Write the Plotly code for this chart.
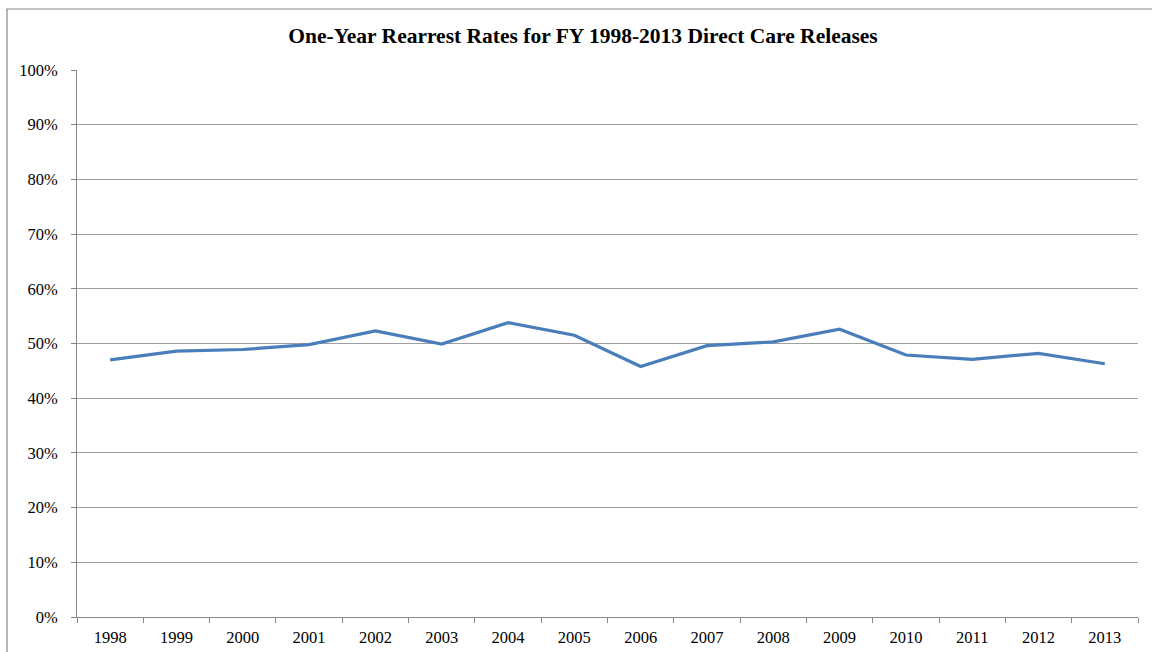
import plotly.graph_objects as go

years = ["1998", "1999", "2000", "2001", "2002", "2003", "2004", "2005",
         "2006", "2007", "2008", "2009", "2010", "2011", "2012", "2013"]
rates = [0.470, 0.486, 0.489, 0.498, 0.523, 0.499, 0.538, 0.515,
         0.458, 0.496, 0.503, 0.526, 0.479, 0.471, 0.482, 0.463]

FONT = "Liberation Serif, Times New Roman, serif"
W, H = 1152, 652
L, R, T, B = 77, 14, 70, 35
pw = W - L - R
ph = H - T - B

fig = go.Figure()
fig.add_trace(go.Scatter(
    x=years, y=rates, mode="lines",
    line=dict(color="#4A7EBB", width=3.2),
    hoverinfo="x+y", showlegend=False,
))

fig.update_layout(
    width=W, height=H,
    margin=dict(l=L, r=R, t=T, b=B, autoexpand=False),
    paper_bgcolor="white", plot_bgcolor="white",
    font=dict(family=FONT, size=16.5, color="black"),
    title=dict(
        text="<b>One-Year Rearrest Rates for FY 1998-2013 Direct Care Releases</b>",
        x=(583 - L) / pw, xref="paper", xanchor="center",
        y=(H - 35) / H, yanchor="middle", yref="container",
        font=dict(family=FONT, size=21.5, color="black"),
    ),
    xaxis=dict(
        type="category", range=[-0.5, 15.5], tickson="boundaries",
        showgrid=False, showline=True, linecolor="#868686", linewidth=1,
        ticks="outside", ticklen=5, tickcolor="#868686",
        tickfont=dict(family=FONT, size=16.5), ticklabelstandoff=5,
        fixedrange=True,
    ),
    yaxis=dict(
        range=[0, 1], dtick=0.1, tickformat=".0%",
        showgrid=True, gridcolor="#A0A0A0", gridwidth=1,
        zeroline=False, showline=True, linecolor="#868686", linewidth=1,
        ticks="outside", ticklen=5, tickcolor="#868686",
        tickfont=dict(family=FONT, size=16.5), ticklabelstandoff=10,
    ),
    shapes=[dict(
        type="rect", xref="paper", yref="paper",
        x0=(7 - L) / pw, x1=(W + 20 - L) / pw,
        y0=-0.2, y1=(H - B - 9) / ph,
        line=dict(color="#868686", width=1.2), fillcolor="rgba(0,0,0,0)",
        layer="below",
    )],
)

fig.write_html("out.html", config={"displayModeBar": False},
               post_script="document.body.style.margin='0';document.body.style.padding='0';")
